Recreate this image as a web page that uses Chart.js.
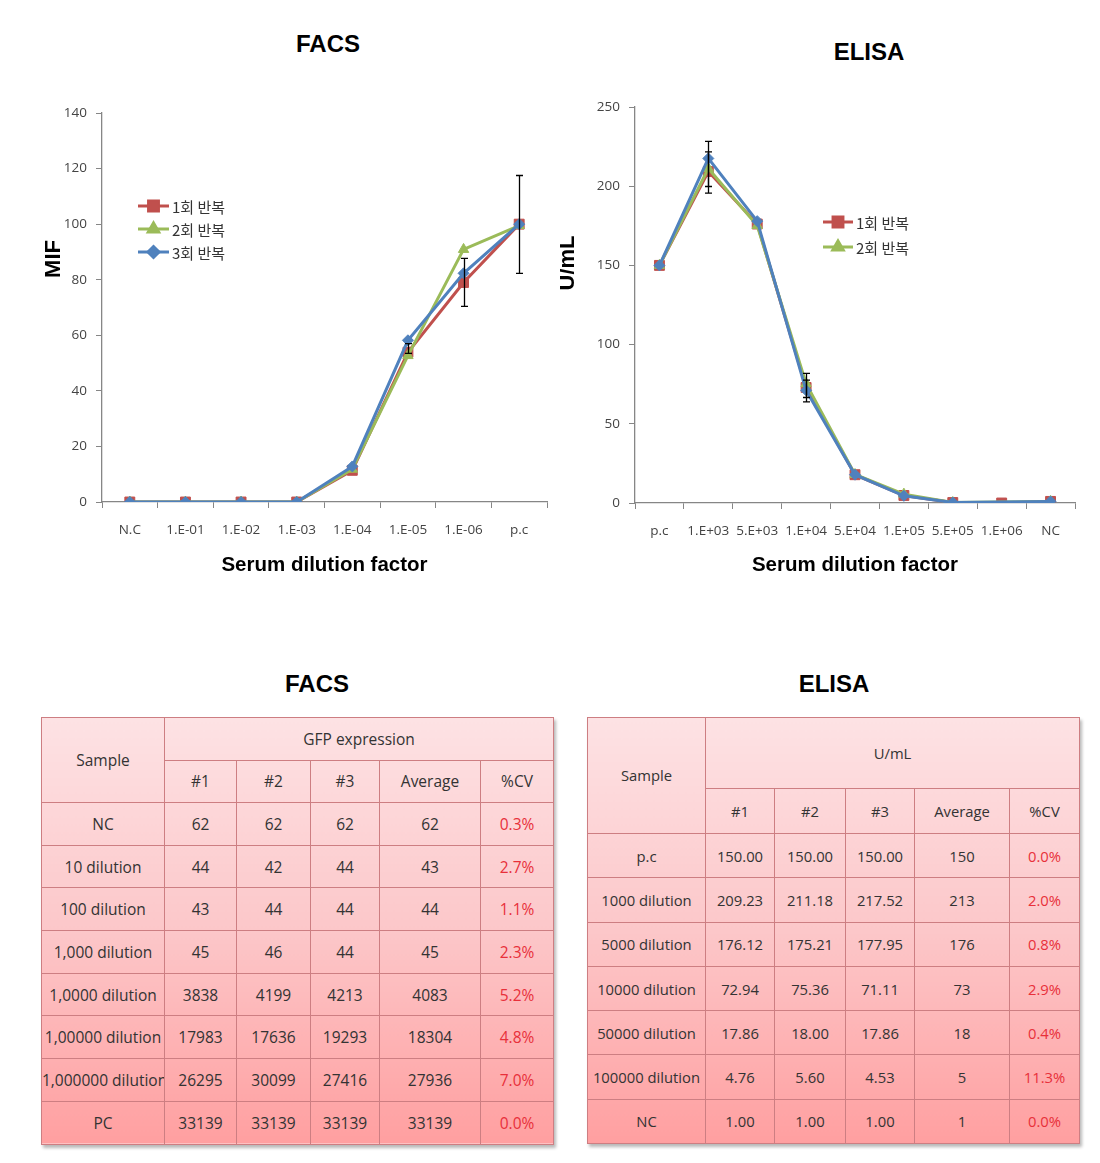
<!DOCTYPE html>
<html>
<head>
<meta charset="utf-8">
<script src="https://cdn.jsdelivr.net/npm/chart.js@4.4.1/dist/chart.umd.min.js"></script>
<style>
  body { margin: 0; background: #fff; }
  #page { position: relative; width: 1100px; height: 1163px; overflow: hidden; }
  .ttl { position: absolute; width: 200px; text-align: center; font: bold 24px "Liberation Sans", Arial, sans-serif; line-height: 30px; color: #000; }
  .box { position: absolute; }
  table.grid { position: absolute; border-collapse: collapse; table-layout: fixed;
    background: linear-gradient(to bottom, #fde2e4 0%, #fcc7c9 50%, #ff9fa0 100%);
    box-shadow: 2px 3px 3px rgba(0,0,0,0.28);
    font-family: "Open Sans", sans-serif; color: #333; }
  table.grid td { border: 1px solid #cd7e82; text-align: center; padding: 0; white-space: nowrap; overflow: hidden; }
  table.grid td.cv { color: #e8303a; }
</style>
</head>
<body>
<div id="page">
  <div class="ttl" style="left:228px;top:29px">FACS</div>
  <div class="ttl" style="left:769px;top:37px">ELISA</div>
  <div class="box" style="left:0;top:80px"><canvas id="facs" width="560" height="520"></canvas></div>
  <div class="box" style="left:560px;top:80px"><canvas id="elisa" width="540" height="520"></canvas></div>
  <div class="ttl" style="left:217px;top:669px">FACS</div>
  <div class="ttl" style="left:734px;top:669px">ELISA</div>
  <table class="grid" id="facsTable" style="left:41px;top:717px;width:512px;font-size:15.5px"></table>
  <table class="grid" id="elisaTable" style="left:587px;top:717px;width:492px;font-size:14.8px"></table>
</div>
<script>
// ---- chart data ----
var runNames = ['1회 반복', '2회 반복', '3회 반복'];

var facsLabels = ['N.C', '1.E-01', '1.E-02', '1.E-03', '1.E-04', '1.E-05', '1.E-06', 'p.c'];
var facsRun1 = [0, 0, 0, 0, 11.4, 53.9, 79.0, 100];
var facsRun2 = [0, 0, 0, 0, 11.8, 52.7, 90.9, 99.5];
var facsRun3 = [0, 0, 0, 0, 12.8, 58.2, 82.3, 100];
var facsErrLow  = [null, null, null, null, null, 53.5, 70.4, 82.3];
var facsErrHigh = [null, null, null, null, null, 57.0, 87.7, 117.5];

var elisaLabels = ['p.c', '1.E+03', '5.E+03', '1.E+04', '5.E+04', '1.E+05', '5.E+05', '1.E+06', 'NC'];
var elisaRun1 = [150, 209.23, 176.12, 72.94, 17.86, 4.76, 0.3, 0, 1.0];
var elisaRun2 = [150, 211.18, 175.21, 75.36, 18.00, 5.60, 0.3, null, 1.0];
var elisaRun3 = [150, 217.52, 177.95, 71.11, 17.86, 4.53, 0.3, null, 1.0];
var elisaErrLow1  = [null, 195.6, null, 63.9, null, null, null, null, null];
var elisaErrHigh1 = [null, 221.7, null, 77.6, null, null, null, null, null];
var elisaErrLow3  = [null, 199.8, null, 66.6, null, null, null, null, null];
var elisaErrHigh3 = [null, 228.3, null, 81.8, null, null, null, null, null];

// ---- table data ----
var facsSamples = ['NC', '10 dilution', '100 dilution', '1,000 dilution', '1,0000 dilution', '1,00000 dilution', '1,000000 dilution', 'PC'];
var facsT1  = ['62', '44', '43', '45', '3838', '17983', '26295', '33139'];
var facsT2  = ['62', '42', '44', '46', '4199', '17636', '30099', '33139'];
var facsT3  = ['62', '44', '44', '44', '4213', '19293', '27416', '33139'];
var facsAvg = ['62', '43', '44', '45', '4083', '18304', '27936', '33139'];
var facsCV  = ['0.3%', '2.7%', '1.1%', '2.3%', '5.2%', '4.8%', '7.0%', '0.0%'];

var elisaSamples = ['p.c', '1000 dilution', '5000 dilution', '10000 dilution', '50000 dilution', '100000 dilution', 'NC'];
var elisaT1  = ['150.00', '209.23', '176.12', '72.94', '17.86', '4.76', '1.00'];
var elisaT2  = ['150.00', '211.18', '175.21', '75.36', '18.00', '5.60', '1.00'];
var elisaT3  = ['150.00', '217.52', '177.95', '71.11', '17.86', '4.53', '1.00'];
var elisaAvg = ['150', '213', '176', '73', '18', '5', '1'];
var elisaCV  = ['0.0%', '2.0%', '0.8%', '2.9%', '0.4%', '11.3%', '0.0%'];

var RED = '#C0504D', GREEN = '#9BBB59', BLUE = '#4F81BD';
var tickFont = { family: '"Open Sans", sans-serif', size: 13.5 };

// black error bars, taken from errLow / errHigh on each dataset
var errorBars = {
  id: 'errorBars',
  afterDatasetsDraw: function (chart) {
    var ctx = chart.ctx, xs = chart.scales.x, ys = chart.scales.y;
    ctx.save();
    ctx.strokeStyle = '#000';
    ctx.lineWidth = 1.3;
    chart.data.datasets.forEach(function (ds) {
      if (!ds.errLow) return;
      ds.errLow.forEach(function (lo, i) {
        if (lo == null) return;
        var px = Math.round(xs.getPixelForValue(i)) + 0.5;
        var y1 = ys.getPixelForValue(lo), y2 = ys.getPixelForValue(ds.errHigh[i]);
        ctx.beginPath();
        ctx.moveTo(px, y1); ctx.lineTo(px, y2);
        ctx.moveTo(px - 3.5, y1); ctx.lineTo(px + 3.5, y1);
        ctx.moveTo(px - 3.5, y2); ctx.lineTo(px + 3.5, y2);
        ctx.stroke();
      });
    });
    ctx.restore();
  }
};

// legend placed inside the plot like the excel original
var innerLegend = {
  id: 'innerLegend',
  afterDraw: function (chart, args, opts) {
    var ctx = chart.ctx;
    ctx.save();
    for (var i = 0; i < opts.count; i++) {
      var ds = chart.data.datasets[i];
      var y = opts.y + i * opts.step;
      ctx.strokeStyle = ds.borderColor;
      ctx.lineWidth = 3;
      ctx.beginPath();
      ctx.moveTo(opts.x, y); ctx.lineTo(opts.x + opts.len, y);
      ctx.stroke();
      ctx.fillStyle = ds.borderColor;
      Chart.helpers.drawPoint(ctx, { pointStyle: ds.pointStyle, radius: ds.pointRadius, rotation: 0, borderWidth: 1 },
        opts.x + opts.len / 2, y);
      ctx.fill();
      ctx.fillStyle = '#333';
      ctx.font = '15px "Noto Sans CJK KR", sans-serif';
      ctx.textBaseline = 'middle';
      ctx.fillText(ds.label, opts.x + opts.len + 3, y + 1);
    }
    ctx.restore();
  }
};

// rotated y axis title at a fixed spot
var sideTitle = {
  id: 'sideTitle',
  afterDraw: function (chart, args, opts) {
    var ctx = chart.ctx;
    ctx.save();
    ctx.translate(opts.x, opts.y);
    ctx.rotate(-Math.PI / 2);
    ctx.font = 'bold 22px "Liberation Sans", Arial, sans-serif';
    ctx.fillStyle = '#000';
    ctx.textAlign = 'center';
    ctx.textBaseline = 'middle';
    ctx.fillText(opts.text, 0, 0);
    ctx.restore();
  }
};

function makeDatasets(r1, r2, r3) {
  var common = { borderWidth: 3, pointBorderWidth: 1, tension: 0, spanGaps: true };
  return [
    Object.assign({ label: runNames[0], data: r1, borderColor: RED, backgroundColor: RED, pointBackgroundColor: RED,
      pointBorderColor: RED, pointStyle: 'rect', pointRadius: 7, order: 2 }, common),
    Object.assign({ label: runNames[1], data: r2, borderColor: GREEN, backgroundColor: GREEN, pointBackgroundColor: GREEN,
      pointBorderColor: GREEN, pointStyle: 'triangle', pointRadius: 6, order: 1 }, common),
    Object.assign({ label: runNames[2], data: r3, borderColor: BLUE, backgroundColor: BLUE, pointBackgroundColor: BLUE,
      pointBorderColor: BLUE, pointStyle: 'rectRot', pointRadius: 5.5, order: 0 }, common)
  ];
}

function makeChart(id, labels, datasets, o) {
  return new Chart(document.getElementById(id), {
    type: 'line',
    data: { labels: labels, datasets: datasets },
    plugins: [errorBars, innerLegend, sideTitle],
    options: {
      responsive: false,
      animation: false,
      events: [],
      layout: { padding: { top: o.padTop, right: o.padRight, left: 0, bottom: 0 } },
      plugins: {
        legend: { display: false },
        tooltip: { enabled: false },
        innerLegend: o.legend,
        sideTitle: o.yTitle
      },
      scales: {
        x: {
          offset: true,
          grid: { display: true, offset: true, drawOnChartArea: false, tickLength: 6, color: '#868686' },
          border: { color: '#868686', width: 1.3 },
          ticks: { font: tickFont, color: '#444', padding: 14, maxRotation: 0, autoSkip: false },
          title: { display: true, text: 'Serum dilution factor', color: '#000',
            font: { family: '"Liberation Sans", Arial, sans-serif', size: 20.5, weight: 'bold' },
            padding: { top: 0, bottom: 22 } },
          afterFit: function (s) { s.height = o.xHeight; }
        },
        y: {
          min: 0, max: o.yMax,
          grid: { display: true, drawOnChartArea: false, tickLength: 6, color: '#868686' },
          border: { color: '#868686', width: 1.3 },
          ticks: { stepSize: o.yStep, font: tickFont, color: '#444', padding: 9 },
          afterFit: function (s) { s.width = o.yWidth; }
        }
      }
    }
  });
}

var facsSets = makeDatasets(facsRun1, facsRun2, facsRun3);
facsSets[0].errLow = facsErrLow;
facsSets[0].errHigh = facsErrHigh;
makeChart('facs', facsLabels, facsSets, {
  padTop: 33, padRight: 13, xHeight: 98, yWidth: 102, yMax: 140, yStep: 20,
  legend: { x: 138, y: 126, step: 23, len: 31, count: 3 },
  yTitle: { text: 'MIF', x: 54, y: 179 }
});

var elisaSets = makeDatasets(elisaRun1, elisaRun2, elisaRun3);
elisaSets[0].errLow = elisaErrLow1;
elisaSets[0].errHigh = elisaErrHigh1;
elisaSets[2].errLow = elisaErrLow3;
elisaSets[2].errHigh = elisaErrHigh3;
makeChart('elisa', elisaLabels, elisaSets, {
  padTop: 27, padRight: 25, xHeight: 97, yWidth: 75, yMax: 250, yStep: 50,
  legend: { x: 263, y: 142, step: 25, len: 30, count: 2 },
  yTitle: { text: 'U/mL', x: 8, y: 183 }
});

// ---- tables ----
function buildTable(id, colWidths, headRows, groupTitle, samples, cols, cv, dataRowH) {
  var t = document.getElementById(id);
  var h = '<colgroup>' + colWidths.map(function (w) { return '<col style="width:' + w + 'px">'; }).join('') + '</colgroup>';
  h += '<tr style="height:' + headRows[0] + 'px"><td rowspan="2">Sample</td><td colspan="5">' + groupTitle + '</td></tr>';
  h += '<tr style="height:' + headRows[1] + 'px"><td>#1</td><td>#2</td><td>#3</td><td>Average</td><td>%CV</td></tr>';
  samples.forEach(function (s, i) {
    h += '<tr style="height:' + dataRowH + 'px"><td>' + s + '</td>';
    cols.forEach(function (c) { h += '<td>' + c[i] + '</td>'; });
    h += '<td class="cv">' + cv[i] + '</td></tr>';
  });
  t.innerHTML = h;
}

buildTable('facsTable', [123, 72, 74, 69, 101, 73], [42.5, 42.5], 'GFP expression',
  facsSamples, [facsT1, facsT2, facsT3, facsAvg], facsCV, 42.7);
buildTable('elisaTable', [118, 69, 71, 69, 95, 70], [70.6, 45.4], 'U/mL',
  elisaSamples, [elisaT1, elisaT2, elisaT3, elisaAvg], elisaCV, 44.3);
</script>
</body>
</html>
